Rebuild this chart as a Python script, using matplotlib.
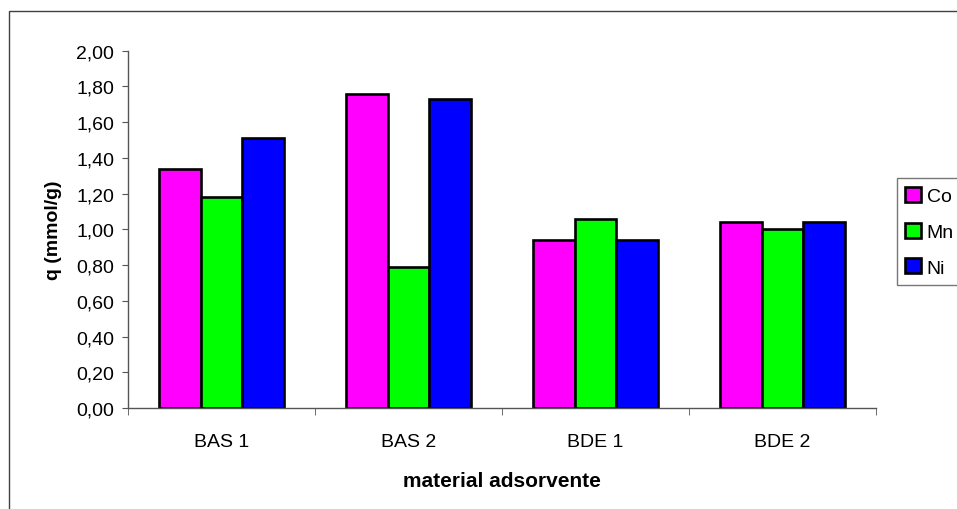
import numpy as np
import matplotlib
matplotlib.use('Agg')
import matplotlib.pyplot as plt
from matplotlib.patches import Rectangle

plt.rcParams['font.family'] = ['Liberation Sans', 'DejaVu Sans']

# adsorption capacity per material and metal
materials = ['BAS 1', 'BAS 2', 'BDE 1', 'BDE 2']
metals = ['Co', 'Mn', 'Ni']
q_co = [1.34, 1.76, 0.94, 1.04]
q_mn = [1.18, 0.79, 1.06, 1.00]
q_ni = [1.51, 1.73, 0.94, 1.04]
yticks = [0.0, 0.2, 0.4, 0.6, 0.8, 1.0, 1.2, 1.4, 1.6, 1.8, 2.0]
colors = ['#ff00ff', '#00ff00', '#0000ff']

fig = plt.figure(figsize=(9.57, 5.10), dpi=100)
ax = fig.add_axes([0.1338, 0.198, 0.7816, 0.7006])

# outer chart-area border (runs off the right and bottom edges)
top = 1 - 11.7 / 510
fig.patches.append(Rectangle((9 / 957, -0.2), 1.2, top + 0.2,
                             transform=fig.transFigure, fill=False,
                             edgecolor='#404040', linewidth=1.0))

x = np.arange(len(materials))
w = 1 / 4.5  # gap width 150 %
for i, (vals, name) in enumerate(zip([q_co, q_mn, q_ni], metals)):
    ax.bar(x + (i - 1) * w, vals, width=w, color=colors[i],
           edgecolor='black', linewidth=1.9, label=name)

ax.set_xlim(-0.5, len(materials) - 0.5)
ax.set_ylim(0, 2.0)
ax.set_yticks(yticks)
ax.set_yticklabels([('%.2f' % v).replace('.', ',') for v in yticks])

# category labels in the middle, ticks on the boundaries
ax.set_xticks(x)
ax.set_xticklabels(materials)
ax.set_xticks(np.arange(len(materials) + 1) - 0.5, minor=True)
ax.tick_params(axis='x', which='major', length=0, pad=18, labelsize=14)
ax.tick_params(axis='x', which='minor', length=5, color='#555555')
ax.tick_params(axis='y', length=4, color='#555555', labelsize=14, pad=6)

for side in ['top', 'right']:
    ax.spines[side].set_visible(False)
for side in ['left', 'bottom']:
    ax.spines[side].set_color('#555555')
    ax.spines[side].set_linewidth(1.0)

ax.set_ylabel('q (mmol/g)', fontsize=14, fontweight='bold', labelpad=10)
ax.set_xlabel('material adsorvente', fontsize=15, fontweight='bold',
              labelpad=15)

leg = ax.legend(loc='upper left', bbox_to_anchor=(896.7 / 957, 1 - 179.3 / 510),
                bbox_transform=fig.transFigure, fontsize=14, frameon=True,
                fancybox=False, edgecolor='#555555', handlelength=0.8,
                handleheight=0.8, handletextpad=0.3, borderpad=0.45,
                labelspacing=0.9, borderaxespad=0)
leg.get_frame().set_linewidth(1.0)

fig.savefig('out.png', dpi=100)
